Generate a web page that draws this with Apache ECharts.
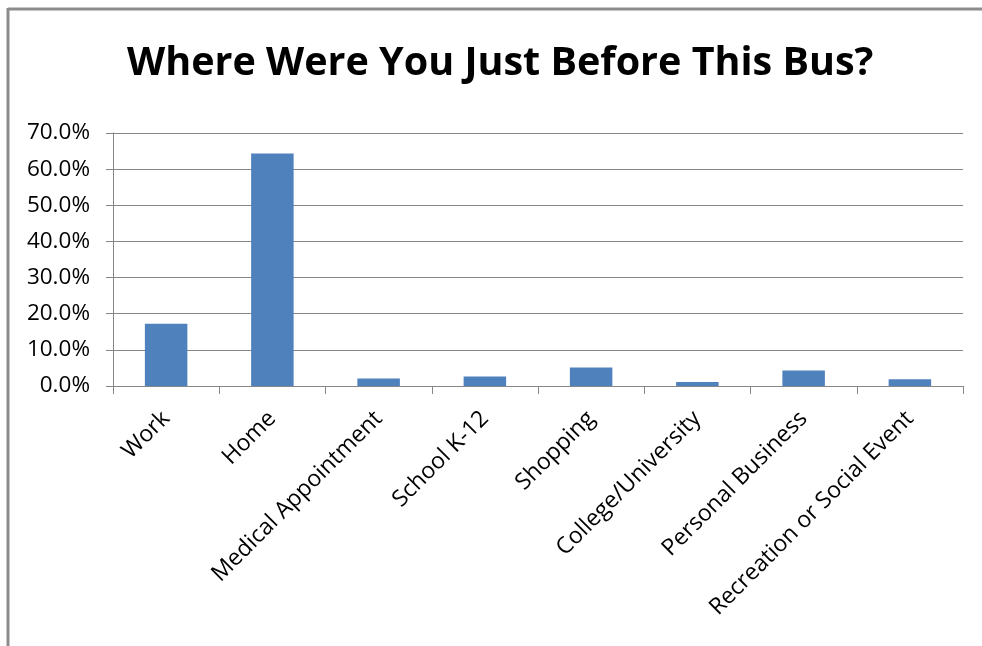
<!DOCTYPE html>
<html><head><meta charset="utf-8">
<script src="https://cdn.jsdelivr.net/npm/echarts@6/dist/echarts.min.js"></script>
<style>html,body{margin:0;padding:0;background:#fff}#c{width:982px;height:646px}</style>
</head><body><div id="c"></div>
<script>
const titleText = 'Where Were You Just Before This Bus?';
const categories = ['Work','Home','Medical Appointment','School K-12','Shopping','College/University','Personal Business','Recreation or Social Event'];
const values = [0.172, 0.643, 0.021, 0.026, 0.051, 0.011, 0.043, 0.019];
const yTicks = {min: 0, max: 0.7, interval: 0.1};

const chart = echarts.init(document.getElementById('c'), null, {renderer: 'canvas'});
chart.setOption({
  backgroundColor: '#fff',
  animation: false,
  title: {
    text: titleText, left: 122, top: 39,
    textStyle: {fontFamily: 'Open Sans', fontWeight: 'bold', fontSize: 39.5, color: '#000'}
  },
  graphic: [
    {type: 'line', shape: {x1: 8, y1: 9, x2: 982, y2: 9}, style: {stroke: '#8c8c8c', lineWidth: 3}},
    {type: 'line', shape: {x1: 8, y1: 8, x2: 8, y2: 646}, style: {stroke: '#8c8c8c', lineWidth: 3}}
  ],
  grid: {left: 113, right: 19, top: 133, bottom: 260, containLabel: false},
  xAxis: {
    type: 'category', data: categories,
    axisLine: {lineStyle: {color: '#868686', width: 1}},
    axisTick: {show: true, length: 8, lineStyle: {color: '#868686'}},
    axisLabel: {rotate: 45, interval: 0, margin: 29, fontFamily: 'Open Sans', fontSize: 23, color: '#000'}
  },
  yAxis: {
    type: 'value', min: yTicks.min, max: yTicks.max, interval: yTicks.interval,
    axisLine: {show: true, lineStyle: {color: '#868686', width: 1}},
    axisTick: {show: true, length: 7, lineStyle: {color: '#868686'}},
    splitLine: {lineStyle: {color: '#868686', width: 1}},
    axisLabel: {margin: 23, fontFamily: 'Open Sans', fontSize: 22.5, color: '#000',
      formatter: v => (v * 100).toFixed(1) + '%'}
  },
  series: [{
    type: 'bar', data: values, barWidth: '40%',
    itemStyle: {color: '#4f81bd'}
  }]
});
</script></body></html>
